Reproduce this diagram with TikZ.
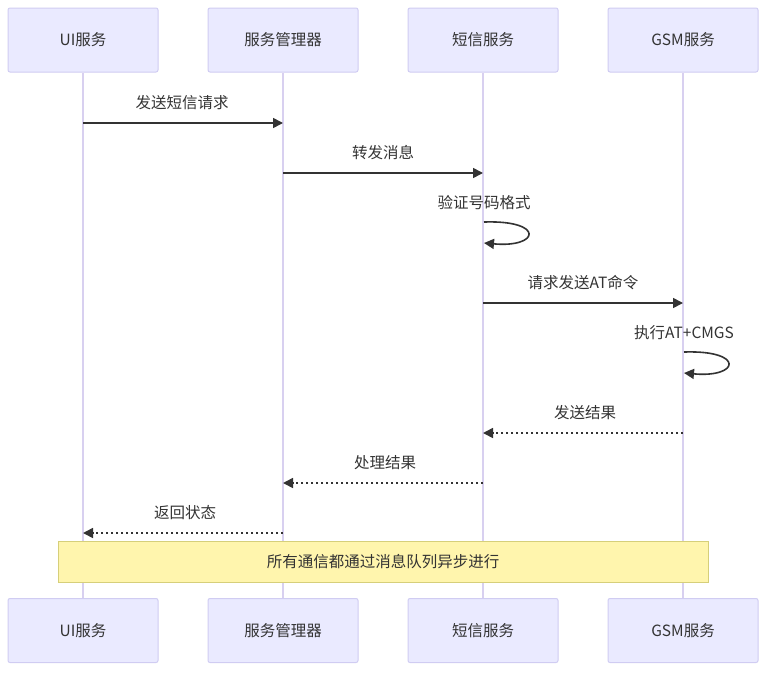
\documentclass[tikz,border=0pt]{standalone}
\usepackage{fontspec}
\setmainfont{Noto Sans CJK SC}
\usetikzlibrary{arrows.meta}
\definecolor{actfill}{HTML}{EAEAFF}
\definecolor{actdraw}{HTML}{D0CCF2}
\definecolor{lifecol}{HTML}{D8D0F0}
\definecolor{txtcol}{HTML}{333333}
\definecolor{notefill}{HTML}{FFF5AD}
\definecolor{notedraw}{HTML}{D6CF7A}
\tikzset{
  actor/.style={draw=actdraw, fill=actfill, line width=1pt, rounded corners=2pt,
    minimum width=150pt, minimum height=64pt, inner sep=0pt, text=txtcol,
    font=\fontsize{15.5}{18}\selectfont},
  life/.style={draw=lifecol, line width=1.5pt},
  msg/.style={draw=txtcol, line width=1.6pt, -{Triangle[length=10pt,width=10pt]}},
  reply/.style={msg, dash pattern=on 2.5pt off 2.5pt},
  lbl/.style={text=txtcol, font=\fontsize{15.5}{18}\selectfont, inner sep=0pt},
  note/.style={draw=notedraw, fill=notefill, line width=1pt, minimum width=650pt,
    minimum height=41pt, inner sep=0pt, text=txtcol, font=\fontsize{15.5}{18}\selectfont}
}
\begin{document}
\begin{tikzpicture}[x=1pt,y=-1pt]
\useasboundingbox (0,0) rectangle (767,672);
% actors top
\node[actor] (a1) at (83,40) {UI服务};
\node[actor] (a2) at (283,40) {服务管理器};
\node[actor] (a3) at (483,40) {短信服务};
\node[actor] (a4) at (683,40) {GSM服务};
% actors bottom
\node[actor] (b1) at (83,630.5) {UI服务};
\node[actor] (b2) at (283,630.5) {服务管理器};
\node[actor] (b3) at (483,630.5) {短信服务};
\node[actor] (b4) at (683,630.5) {GSM服务};
% lifelines
\draw[life] (a1.south) -- (b1.north);
\draw[life] (a2.south) -- (b2.north);
\draw[life] (a3.south) -- (b3.north);
\draw[life] (a4.south) -- (b4.north);
% coordinates on lifelines
\coordinate (p1s) at (83,123); \coordinate (p1e) at (283,123);
\coordinate (p2s) at (283,173); \coordinate (p2e) at (483,173);
\coordinate (p3s) at (484,222); \coordinate (p3e) at (484,243);
\coordinate (p4s) at (483,303); \coordinate (p4e) at (683,303);
\coordinate (p5s) at (684,352); \coordinate (p5e) at (684,373);
\coordinate (p6s) at (683,433); \coordinate (p6e) at (483,433);
\coordinate (p7s) at (483,483); \coordinate (p7e) at (283,483);
\coordinate (p8s) at (283,533); \coordinate (p8e) at (83,533);
% messages
\draw[msg] (p1s) -- (p1e);
\node[lbl] (l1) at (182,103) {发送短信请求};
\draw[msg] (p2s) -- (p2e);
\node[lbl] (l2) at (383,153) {转发消息};
\draw[msg] (p3s) .. controls (545,220) and (540,248) .. (p3e);
\node[lbl] (l3) at (484,203) {验证号码格式};
\draw[msg] (p4s) -- (p4e);
\node[lbl] (l4) at (583,283) {请求发送AT命令};
\draw[msg] (p5s) .. controls (745,350) and (740,378) .. (p5e);
\node[lbl] (l5) at (684,333) {执行AT+CMGS};
\draw[reply] (p6s) -- (p6e);
\node[lbl] (l6) at (585,413) {发送结果};
\draw[reply] (p7s) -- (p7e);
\node[lbl] (l7) at (385,463) {处理结果};
\draw[reply] (p8s) -- (p8e);
\node[lbl] (l8) at (185,513) {返回状态};
% note
\node[note] (n1) at (383,561.5) {所有通信都通过消息队列异步进行};
\end{tikzpicture}
\end{document}
